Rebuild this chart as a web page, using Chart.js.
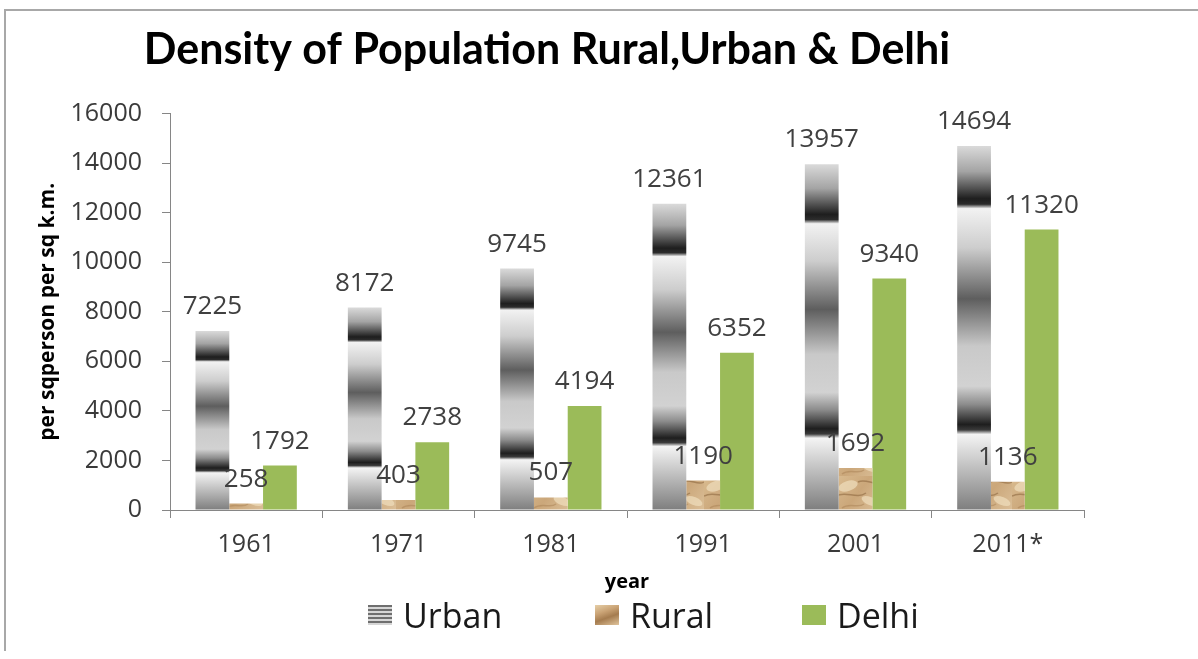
<!DOCTYPE html>
<html>
<head>
<meta charset="utf-8">
<title>Density of Population Rural, Urban & Delhi</title>
<script src="https://cdn.jsdelivr.net/npm/chart.js@4.4.0/dist/chart.umd.min.js"></script>
<style>
    html, body { margin: 0; padding: 0; background: #fff; }
    #wrap { position: relative; width: 1198px; height: 659px; overflow: hidden; }
    #frame {
        position: absolute; left: 4px; top: 9px; right: -10px; bottom: 8px;
        border-left: 2px solid #a8a8a8; border-top: 2px solid #a8a8a8;
        pointer-events: none;
    }
    #legend {
        position: absolute; left: 368px; top: 591px; height: 48px;
        display: flex; align-items: center;
        font-family: 'Open Sans', sans-serif; font-size: 34px; color: #1a1a1a;
    }
    #legend .item { display: flex; align-items: center; }
    #legend .box { width: 24px; height: 20px; margin-right: 11px; }
</style>
</head>
<body>
<div id="wrap">
    <canvas id="densityChart"></canvas>
    <div id="legend"></div>
    <div id="frame"></div>
</div>
<script>
const years = ['1961', '1971', '1981', '1991', '2001', '2011*'];
const urban = [7225, 8172, 9745, 12361, 13957, 14694];
const rural = [258, 403, 507, 1190, 1692, 1136];
const delhi = [1792, 2738, 4194, 6352, 9340, 11320];
const seriesNames = ['Urban', 'Rural', 'Delhi'];

const canvas = document.getElementById('densityChart');
const ctx = canvas.getContext('2d');

// banded grey fill of the urban bars, stretched over each bar
const urbanStops = [
    [0, '#dadada'], [0.07, '#a4a4a4'], [0.145, '#1e1e1e'], [0.16, '#2c2c2c'],
    [0.172, '#f2f2f2'], [0.28, '#cdcdcd'], [0.42, '#5e5e5e'], [0.55, '#c9c9c9'],
    [0.66, '#d2d2d2'], [0.71, '#8c8c8c'], [0.765, '#1e1e1e'], [0.78, '#3a3a3a'],
    [0.792, '#f4f4f4'], [0.88, '#c2c2c2'], [1, '#7e7e7e']
];

function urbanFill(c) {
    const chart = c.chart;
    if (!chart.chartArea || c.type !== 'data') return '#9a9a9a';
    const y = chart.scales.y;
    const top = y.getPixelForValue(c.parsed.y);
    const base = y.getPixelForValue(0);
    const g = chart.ctx.createLinearGradient(0, top, 0, base);
    urbanStops.forEach(s => g.addColorStop(s[0], s[1]));
    return g;
}

// sandy texture for the rural bars
function ruralPattern() {
    const c = document.createElement('canvas');
    c.width = 44;
    c.height = 34;
    const g = c.getContext('2d');
    const grad = g.createLinearGradient(0, 0, 44, 34);
    grad.addColorStop(0, '#d9bb90');
    grad.addColorStop(0.5, '#cba77a');
    grad.addColorStop(1, '#dbbf98');
    g.fillStyle = grad;
    g.fillRect(0, 0, 44, 34);
    g.fillStyle = 'rgba(240, 222, 190, 0.7)';
    g.beginPath(); g.ellipse(12, 10, 10, 5, -0.3, 0, Math.PI * 2); g.fill();
    g.beginPath(); g.ellipse(34, 25, 9, 4, 0.4, 0, Math.PI * 2); g.fill();
    g.lineWidth = 1.5;
    g.strokeStyle = 'rgba(130, 92, 52, 0.5)';
    g.beginPath(); g.moveTo(0, 20); g.bezierCurveTo(10, 14, 20, 24, 30, 17); g.stroke();
    g.beginPath(); g.moveTo(22, 6); g.bezierCurveTo(30, 2, 38, 10, 44, 6); g.stroke();
    g.strokeStyle = 'rgba(165, 125, 80, 0.45)';
    g.beginPath(); g.moveTo(6, 32); g.bezierCurveTo(14, 26, 22, 33, 28, 28); g.stroke();
    return ctx.createPattern(c, 'repeat');
}

const valueLabels = {
    id: 'valueLabels',
    afterDatasetsDraw(chart) {
        const c = chart.ctx;
        c.save();
        c.font = '26px "Open Sans"';
        c.fillStyle = '#404040';
        c.textAlign = 'center';
        c.textBaseline = 'alphabetic';
        chart.data.datasets.forEach((ds, i) => {
            chart.getDatasetMeta(i).data.forEach((bar, j) => {
                c.fillText(ds.data[j], bar.x, bar.y - 17);
            });
        });
        c.restore();
    }
};

const axisGrey = '#868686';
const tickText = '#3a3a3a';

const chart = new Chart(ctx, {
    type: 'bar',
    data: {
        labels: years,
        datasets: [
            { label: seriesNames[0], data: urban, backgroundColor: urbanFill },
            { label: seriesNames[1], data: rural, backgroundColor: ruralPattern() },
            { label: seriesNames[2], data: delhi, backgroundColor: '#9bbb59' }
        ]
    },
    options: {
        responsive: true,
        maintainAspectRatio: false,
        animation: false,
        datasets: {
            bar: { barPercentage: 1, categoryPercentage: 0.665 }
        },
        layout: {
            padding: { left: 10, right: 114, top: 0, bottom: 61 }
        },
        plugins: {
            legend: { display: false },
            tooltip: { enabled: false },
            title: {
                display: true,
                text: 'Density of Population Rural,Urban & Delhi',
                align: 'center',
                color: '#000',
                font: { family: 'Lato', size: 43, weight: 'bold' },
                padding: { top: 24, bottom: 38 }
            }
        },
        scales: {
            x: {
                offset: true,
                afterFit: (scale) => { scale.height = 88; },
                border: { display: true, color: axisGrey, width: 1 },
                grid: {
                    display: true,
                    offset: true,
                    drawOnChartArea: false,
                    drawTicks: true,
                    tickLength: 8,
                    color: axisGrey
                },
                ticks: {
                    color: tickText,
                    padding: 12,
                    font: { family: 'Open Sans', size: 25 }
                },
                title: {
                    display: true,
                    text: 'year',
                    color: '#000',
                    font: { family: 'Open Sans', size: 20, weight: 'bold' },
                    padding: { top: 0, bottom: 4 }
                }
            },
            y: {
                min: 0,
                max: 16000,
                afterFit: (scale) => { scale.width = 160; },
                border: { display: true, color: axisGrey, width: 1 },
                grid: {
                    display: true,
                    drawOnChartArea: false,
                    drawTicks: true,
                    tickLength: 8,
                    color: axisGrey
                },
                ticks: {
                    stepSize: 2000,
                    color: tickText,
                    padding: 20,
                    font: { family: 'Open Sans', size: 25 },
                    callback: (value) => String(value)
                },
                title: {
                    display: true,
                    text: 'per sqperson per sq k.m.',
                    color: '#000',
                    font: { family: 'Open Sans', size: 21, weight: 'bold' },
                    padding: { top: 25, bottom: 0 }
                }
            }
        }
    },
    plugins: [valueLabels]
});

// legend built from the chart's own legend items
const legendIcons = [
    'repeating-linear-gradient(to bottom, #6f6f6f 0px, #6f6f6f 2px, #d6d6d6 2px, #d6d6d6 4px)',
    'linear-gradient(160deg, #e6cfa8 0%, #c9a274 35%, #a57c4f 60%, #e0c49c 100%)',
    '#9bbb59'
];
const itemWidths = [227, 207, null];
const legendEl = document.getElementById('legend');
Chart.defaults.plugins.legend.labels.generateLabels(chart).forEach((item, i) => {
    const row = document.createElement('div');
    row.className = 'item';
    if (itemWidths[i]) row.style.width = itemWidths[i] + 'px';
    const box = document.createElement('span');
    box.className = 'box';
    box.style.background = legendIcons[item.datasetIndex];
    const text = document.createElement('span');
    text.textContent = item.text;
    row.appendChild(box);
    row.appendChild(text);
    legendEl.appendChild(row);
});
</script>
</body>
</html>
